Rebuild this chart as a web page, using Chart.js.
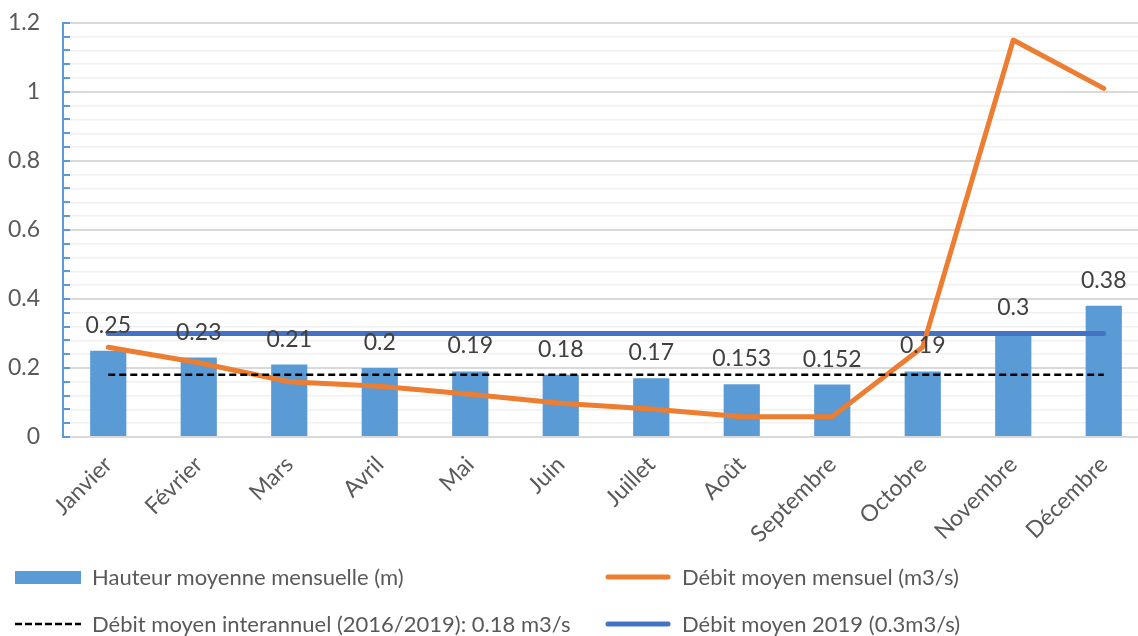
<!DOCTYPE html>
<html lang="fr">
<head>
<meta charset="utf-8">
<title>Hauteur et débit moyens mensuels</title>
<script src="https://cdn.jsdelivr.net/npm/chart.js@4.4.1/dist/chart.umd.min.js"></script>
<style>
  html, body { margin: 0; padding: 0; background: #ffffff; overflow: hidden; width: 1138px; height: 636px; }
  #wrap { position: relative; width: 1138px; height: 636px; overflow: hidden; }
  #chart { position: absolute; left: 0; top: -14px; }
  .leg { position: absolute; display: flex; align-items: center; font-family: 'Lato', sans-serif; font-size: 22px; color: #595959; white-space: nowrap; line-height: 1; }
  .leg svg { display: block; margin-right: 11px; }
</style>
</head>
<body>
<div id="wrap">
  <canvas id="chart" width="1149" height="650"></canvas>
  <div id="legend"></div>
</div>
<script>
// Months on the category axis
const months = ['Janvier', 'Février', 'Mars', 'Avril', 'Mai', 'Juin', 'Juillet', 'Août', 'Septembre', 'Octobre', 'Novembre', 'Décembre'];

// Monthly mean water height (m) — bars
const hauteurMoyenne = [0.25, 0.23, 0.21, 0.2, 0.19, 0.18, 0.17, 0.153, 0.152, 0.19, 0.3, 0.38];

// Monthly mean discharge (m3/s) — orange line
const debitMensuel = [0.26, 0.215, 0.16, 0.147, 0.124, 0.098, 0.081, 0.059, 0.059, 0.261, 1.15, 1.01];

// Reference discharges (m3/s)
const debitInterannuel = 0.18;
const debit2019 = 0.3;

// Value axis ticks
const yMin = 0;
const yMax = 1.2;
const yMajorStep = 0.2;
const yMinorStep = 0.04;

// Series names
const labelHauteur = 'Hauteur moyenne mensuelle (m)';
const labelDebitMensuel = 'Débit moyen mensuel (m3/s)';
const labelInterannuel = 'Débit moyen interannuel (2016/2019): 0.18 m3/s';
const label2019 = 'Débit moyen 2019 (0.3m3/s)';

const FONT = 'Lato';
const AXIS_TEXT = '#595959';
const BLUE_BAR = '#5B9BD5';
const ORANGE = '#ED7D31';
const BLUE_LINE = '#4472C4';

// Canvas is a little taller than the page and shifted up by this amount
const CANVAS_SHIFT = 14;
const AXIS_BOTTOM = 437 + CANVAS_SHIFT;

const isMajor = v => Math.abs(v / yMajorStep - Math.round(v / yMajorStep)) < 1e-6;

// Small blue tick marks pointing into the plot from the value axis, and value labels above the bars
const decorations = {
  id: 'decorations',
  afterDatasetsDraw(chart) {
    const ctx = chart.ctx;
    const y = chart.scales.y;
    ctx.save();
    ctx.strokeStyle = BLUE_BAR;
    ctx.lineWidth = 2;
    y.ticks.forEach(t => {
      const py = Math.round(y.getPixelForValue(t.value));
      ctx.beginPath();
      ctx.moveTo(y.right, py);
      ctx.lineTo(y.right + 7, py);
      ctx.stroke();
    });
    const meta = chart.getDatasetMeta(0);
    ctx.fillStyle = '#404040';
    ctx.font = '23px ' + FONT;
    ctx.textAlign = 'center';
    ctx.textBaseline = 'alphabetic';
    meta.data.forEach((bar, i) => {
      ctx.fillText(String(hauteurMoyenne[i]), bar.x, bar.y - 18);
    });
    ctx.restore();
  }
};

Chart.defaults.font.family = FONT;
Chart.defaults.font.size = 22;
Chart.defaults.color = AXIS_TEXT;

const chart = new Chart(document.getElementById('chart'), {
  type: 'bar',
  data: {
    labels: months,
    datasets: [
      {
        type: 'bar',
        label: labelHauteur,
        data: hauteurMoyenne,
        backgroundColor: BLUE_BAR,
        categoryPercentage: 1,
        barPercentage: 0.4,
        order: 3
      },
      {
        type: 'line',
        label: label2019,
        data: months.map(() => debit2019),
        borderColor: BLUE_LINE,
        borderWidth: 5,
        borderCapStyle: 'round',
        pointRadius: 0,
        fill: false,
        order: 2
      },
      {
        type: 'line',
        label: labelDebitMensuel,
        data: debitMensuel,
        borderColor: ORANGE,
        borderWidth: 5,
        borderCapStyle: 'round',
        borderJoinStyle: 'round',
        tension: 0,
        pointRadius: 0,
        fill: false,
        order: 1
      },
      {
        type: 'line',
        label: labelInterannuel,
        data: months.map(() => debitInterannuel),
        borderColor: '#000000',
        borderWidth: 2.5,
        borderDash: [7, 4],
        pointRadius: 0,
        fill: false,
        order: 0
      }
    ]
  },
  options: {
    responsive: false,
    animation: false,
    devicePixelRatio: 1,
    layout: { padding: { top: 8, left: 0, right: 0, bottom: 0 } },
    plugins: {
      legend: { display: false },
      tooltip: { enabled: false }
    },
    scales: {
      x: {
        offset: true,
        grid: { display: false, drawTicks: false },
        border: { color: '#d9d9d9', width: 2 },
        ticks: {
          minRotation: 45,
          maxRotation: 45,
          autoSkip: false,
          padding: 14,
          color: AXIS_TEXT,
          font: { family: FONT, size: 23 }
        },
        afterFit(scale) { scale.height = 650 - AXIS_BOTTOM; }
      },
      y: {
        min: yMin,
        max: yMax,
        grid: {
          drawTicks: false,
          color: ctx => isMajor(ctx.tick.value) ? '#d9d9d9' : '#f0f0f0',
          lineWidth: ctx => isMajor(ctx.tick.value) ? 2 : 1.5
        },
        border: { color: BLUE_BAR, width: 2 },
        ticks: {
          stepSize: yMinorStep,
          autoSkip: false,
          padding: 23,
          color: AXIS_TEXT,
          font: { family: FONT, size: 23 },
          callback: v => isMajor(v) ? String(Math.round(v * 10) / 10) : ''
        },
        afterFit(scale) { scale.width = 63; }
      }
    }
  },
  plugins: [decorations]
});

// Legend laid out in two columns under the plot
const legendItems = [
  { label: labelHauteur, kind: 'box', color: BLUE_BAR, left: 15, top: 577 },
  { label: labelDebitMensuel, kind: 'line', color: ORANGE, left: 605, top: 577 },
  { label: labelInterannuel, kind: 'dash', color: '#000000', left: 15, top: 624 },
  { label: label2019, kind: 'line', color: BLUE_LINE, left: 605, top: 624 }
];
const legendEl = document.getElementById('legend');
legendItems.forEach(item => {
  const div = document.createElement('div');
  div.className = 'leg';
  div.style.left = item.left + 'px';
  div.style.top = (item.top - 12) + 'px';
  div.style.height = '24px';
  let swatch;
  if (item.kind === 'box') {
    swatch = `<svg width="66" height="24"><rect x="0" y="6" width="66" height="13" fill="${item.color}"/></svg>`;
  } else if (item.kind === 'line') {
    swatch = `<svg width="66" height="24"><line x1="3" y1="12" x2="63" y2="12" stroke="${item.color}" stroke-width="5" stroke-linecap="round"/></svg>`;
  } else {
    swatch = `<svg width="66" height="24"><line x1="0" y1="12" x2="66" y2="12" stroke="${item.color}" stroke-width="2.5" stroke-dasharray="7 3"/></svg>`;
  }
  div.innerHTML = swatch + '<span></span>';
  div.querySelector('span').textContent = item.label;
  legendEl.appendChild(div);
});
</script>
</body>
</html>
